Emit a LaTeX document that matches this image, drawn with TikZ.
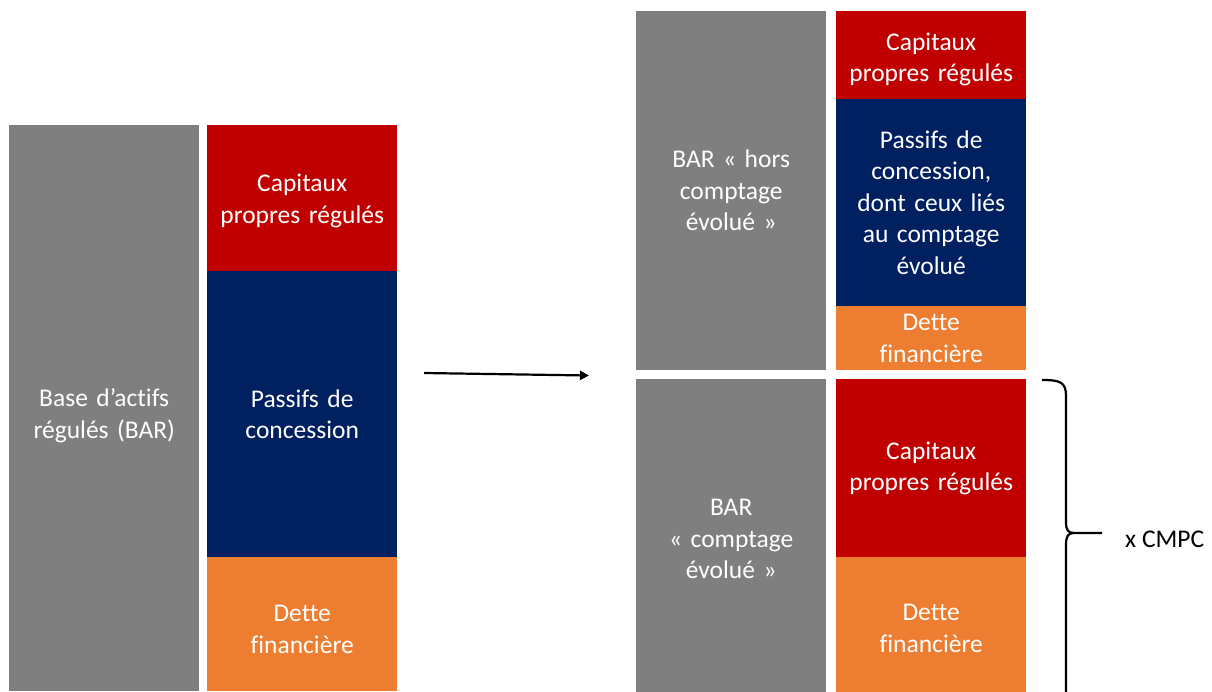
\documentclass[tikz,border=0pt]{standalone}
\usepackage{fontspec}
\setmainfont{Carlito}[Ligatures=NoCommon]
\usetikzlibrary{arrows.meta}
\definecolor{cgray}{HTML}{7F7F7F}
\definecolor{cred}{HTML}{C00000}
\definecolor{cnavy}{HTML}{002060}
\definecolor{corange}{HTML}{ED7D31}
\newcommand{\lift}[1]{\rule{0pt}{#1}}
\tikzset{
  blk/.style={anchor=north west, inner sep=0pt, minimum width=190pt, text=white, align=center,
    font=\fontsize{25.5}{31.5}\selectfont, text width=186pt},
  grayblk/.style={blk, fill=cgray},
  redblk/.style={blk, fill=cred},
  navyblk/.style={blk, fill=cnavy},
  orangeblk/.style={blk, fill=corange},
  conn/.style={line width=2.2pt, -{Triangle[length=9pt,width=9pt]}},
  bracestyle/.style={line width=2.2pt},
}
\begin{document}
\begin{tikzpicture}[x=1pt,y=-1pt]
\useasboundingbox (0,0) rectangle (1212,691);
\begin{scope}
\clip (0,0) rectangle (1212,691);
% left
\node[grayblk, minimum height=566pt] (bar) at (9,125) {\lift{33pt}Base d’actifs\\régulés (BAR)};
\node[redblk, minimum height=146pt] (cp1) at (207,125) {\lift{23pt}Capitaux\\propres régulés};
\node[navyblk, minimum height=286pt] (pc1) at (207,271) {Passifs de\\concession};
\node[orangeblk, minimum height=134pt] (df1) at (207,557) {\lift{27pt}Dette\\financière};
% right top
\node[grayblk, minimum height=359pt] (barh) at (636,11) {BAR «~hors\\comptage\\évolué~»};
\node[redblk, minimum height=88pt] (cp2) at (836,11) {\lift{26pt}Capitaux\\propres régulés};
\node[navyblk, minimum height=207pt] (pc2) at (836,99) {Passifs de\\concession,\\dont ceux liés\\au comptage\\évolué};
\node[orangeblk, minimum height=64pt] (df2) at (836,306) {Dette\\financière};
% right bottom
\node[grayblk, minimum height=320pt] (barc) at (636,379) {BAR\\«~comptage\\évolué~»};
\node[redblk, minimum height=178pt] (cp3) at (836,379) {Capitaux\\propres régulés};
\node[orangeblk, minimum height=142pt] (df3) at (836,557) {Dette\\financière};
% arrow
\coordinate (as) at (424,373);
\coordinate (ae) at (589,375.5);
\draw[conn] (as) -- (ae);
% brace
\coordinate (btop) at (1042,380);
\coordinate (btip) at (1102,533);
\draw[bracestyle] (btop) .. controls (1060,380) and (1066,382) .. (1066,396) -- (1066,522)
  .. controls (1066,530) and (1068,533) .. (1074,533) -- (btip);
\draw[bracestyle] (1074,533) .. controls (1068,533) and (1066,536) .. (1066,545) -- (1066,700);
\end{scope}
\node[anchor=west, inner sep=0pt, font=\fontsize{25.5}{30}\selectfont] (cmpc) at (1125,539) {x CMPC};
\end{tikzpicture}
\end{document}
